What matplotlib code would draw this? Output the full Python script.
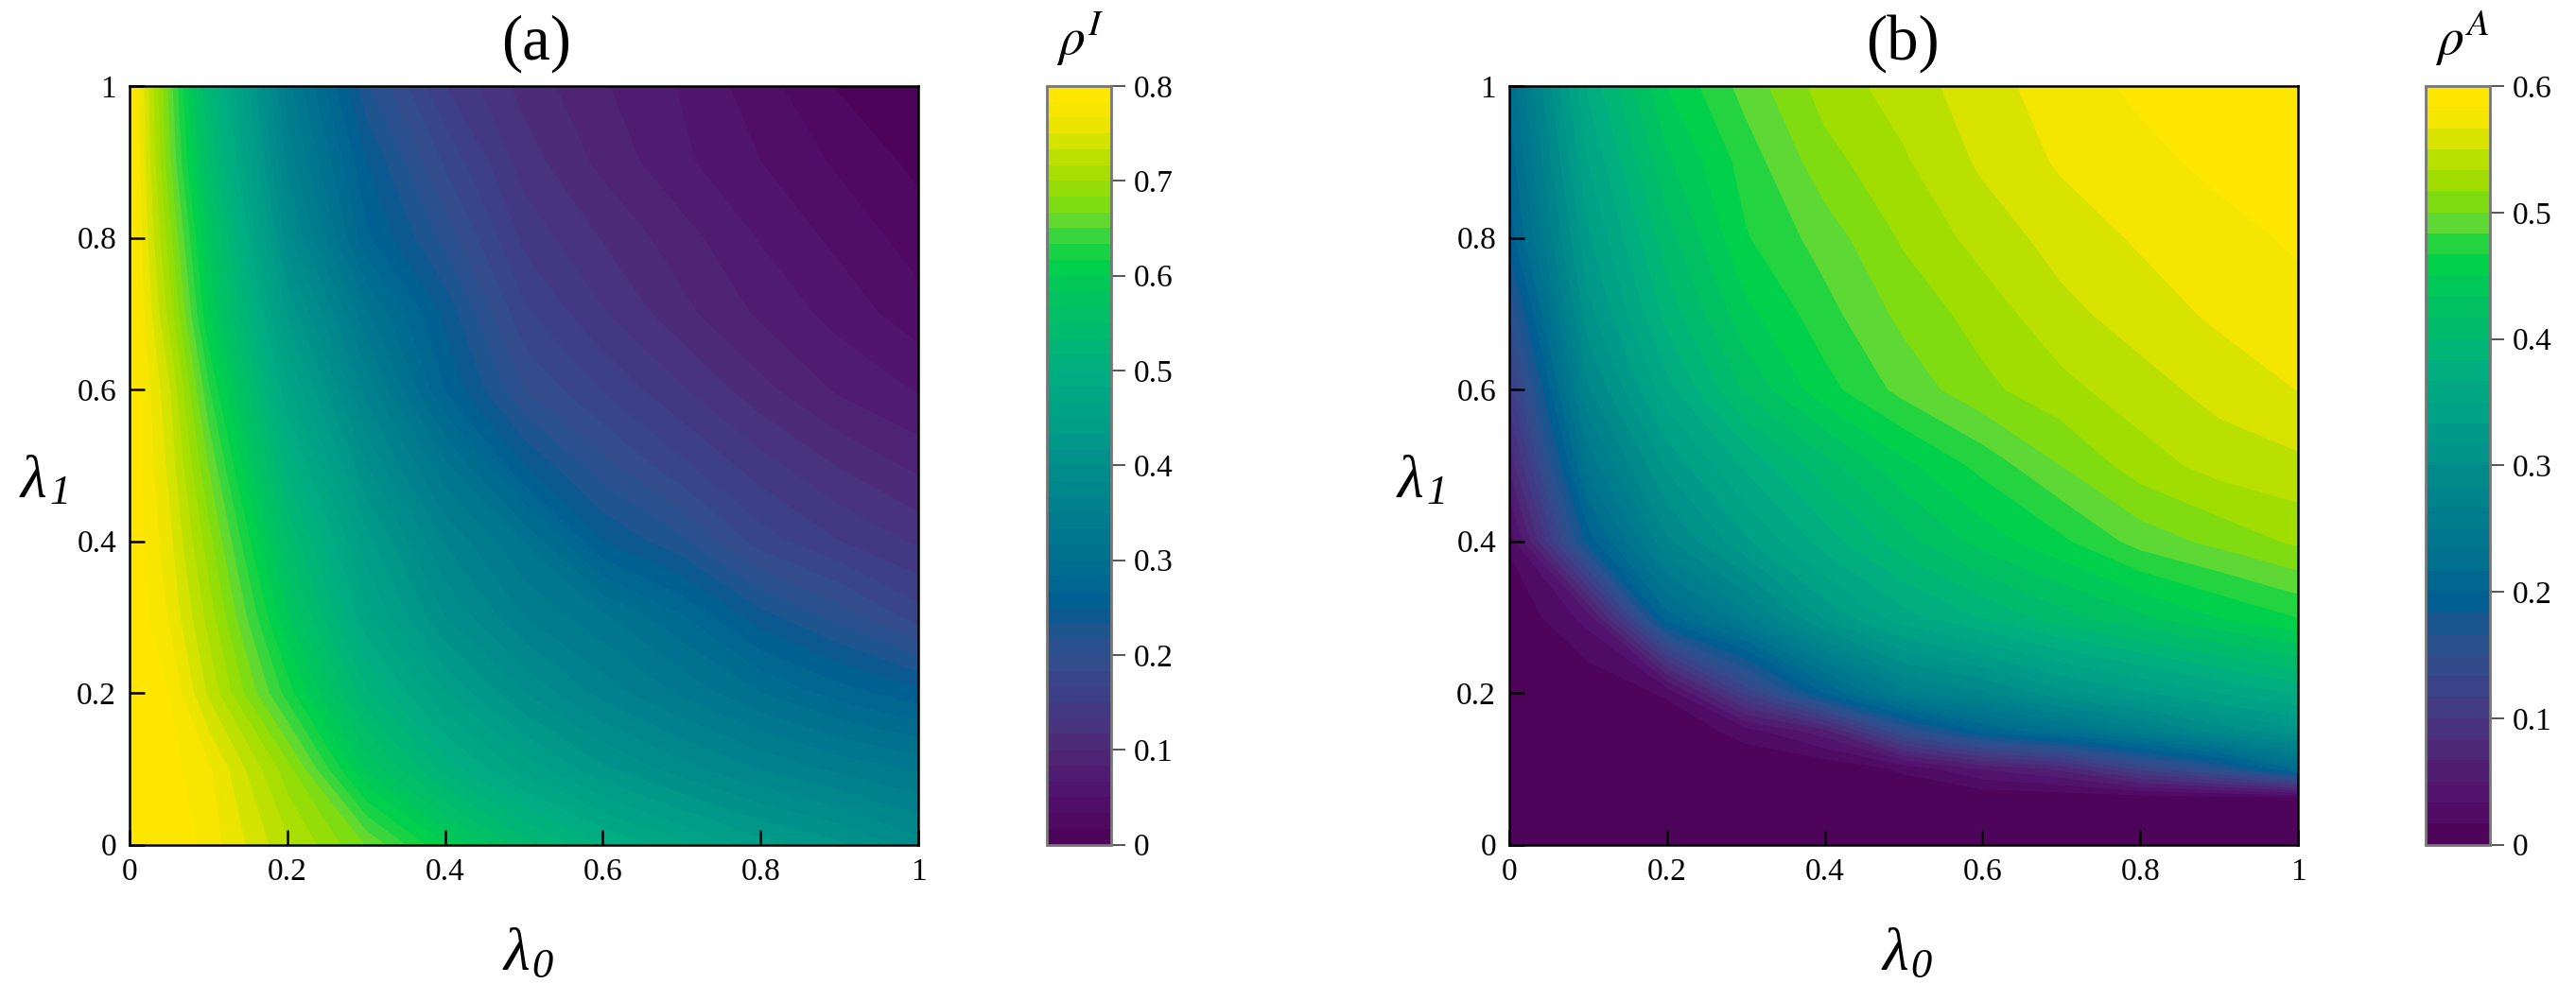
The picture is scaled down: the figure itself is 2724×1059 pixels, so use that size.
import numpy as np
import matplotlib
matplotlib.use("Agg")
import matplotlib.pyplot as plt
from matplotlib.colors import LinearSegmentedColormap

plt.rcParams['font.family'] = ['Liberation Serif', 'DejaVu Serif']
plt.rcParams['mathtext.fontset'] = 'stix'

# colours (position along the bar, colour)
cmap_pos = [0, 0.0625, 0.125, 0.1875, 0.25, 0.29, 0.31, 0.375, 0.44, 0.5, 0.5625, 0.625, 0.72, 0.764, 0.792, 0.819,
            0.847, 0.875, 0.903, 0.931, 0.958, 0.986, 1]
cmap_col = ['#4b0055', '#52116e', '#4e2878', '#413d86', '#2f4f8d', '#1b5690', '#005c92', '#00708f', '#007f8d',
            '#008f8b', '#00a086', '#00ae80', '#00c45e', '#00d14a', '#22d440', '#5cd835', '#80dc10', '#9fde00',
            '#b8e000', '#d8e300', '#f4e600', '#ffe600', '#ffe600']

# panel a, rows go up in lambda_1
lam0_a = [0, 0.05, 0.1, 0.2, 0.3, 0.4, 0.5, 0.6, 0.7, 0.8, 0.9, 1]
lam1_a = [0, 0.1, 0.2, 0.3, 0.4, 0.5, 0.6, 0.7, 0.8, 0.9, 1]
rho_i = [
    [.80, .80, .776, .72, .665, .60, .54, .50, .47, .44, .42, .39],
    [.80, .79, .77, .69, .58, .51, .46, .42, .39, .365, .345, .33],
    [.80, .783, .73, .625, .52, .45, .40, .36, .33, .30, .275, .255],
    [.80, .765, .71, .585, .47, .40, .35, .32, .285, .24, .21, .175],
    [.80, .755, .69, .55, .44, .365, .315, .25, .22, .175, .15, .13],
    [.80, .745, .665, .51, .40, .32, .25, .205, .17, .14, .115, .095],
    [.80, .735, .635, .47, .36, .265, .20, .165, .135, .105, .08, .065],
    [.80, .71, .60, .43, .32, .245, .17, .135, .105, .08, .06, .04],
    [.80, .69, .58, .39, .27, .21, .145, .115, .09, .065, .045, .025],
    [.80, .67, .55, .36, .25, .18, .125, .095, .07, .05, .03, .012],
    [.80, .66, .53, .34, .22, .15, .11, .085, .065, .04, .015, .01],
]

# panel b
lam0_b = [0, 0.1, 0.2, 0.3, 0.4, 0.5, 0.6, 0.7, 0.8, 0.9, 1]
lam1_b = [0, 0.06, 0.1, 0.15, 0.2, 0.3, 0.4, 0.5, 0.6, 0.7, 0.8, 0.9, 1]
rho_a = [
    [0, 0, 0, 0, 0, 0, 0, 0, 0, 0, 0],
    [0, 0, 0, 0, 0, 0, 0, 0, 0, 0, 0],
    [0, 0, 0, 0, 0, .02, .05, .07, .12, .16, .22],
    [0, 0, 0, .025, .06, .15, .20, .23, .26, .29, .31],
    [0, 0, .02, .12, .20, .26, .28, .31, .33, .35, .37],
    [0, .04, .21, .26, .32, .36, .385, .41, .43, .45, .467],
    [.02, .19, .28, .33, .375, .41, .44, .463, .49, .505, .52],
    [.07, .24, .32, .37, .41, .445, .472, .50, .525, .54, .546],
    [.11, .28, .36, .42, .46, .489, .512, .528, .543, .556, .567],
    [.15, .31, .39, .445, .477, .505, .524, .545, .558, .57, .577],
    [.19, .33, .41, .465, .491, .519, .54, .557, .569, .577, .586],
    [.205, .35, .43, .474, .51, .531, .553, .569, .578, .588, .596],
    [.22, .37, .45, .49, .524, .541, .56, .575, .587, .595, .60],
]

ticks_xy = [0, 0.2, 0.4, 0.6, 0.8, 1]
labels_xy = ['0', '0.2', '0.4', '0.6', '0.8', '1']
ticks_a = [0, 0.1, 0.2, 0.3, 0.4, 0.5, 0.6, 0.7, 0.8]
labels_a = ['0', '0.1', '0.2', '0.3', '0.4', '0.5', '0.6', '0.7', '0.8']
ticks_b = [0, 0.1, 0.2, 0.3, 0.4, 0.5, 0.6]
labels_b = ['0', '0.1', '0.2', '0.3', '0.4', '0.5', '0.6']

cmap = LinearSegmentedColormap.from_list('rho', list(zip(cmap_pos, cmap_col)), N=512)

W, H = 2724, 1059
fig = plt.figure(figsize=(W / 100, H / 100), dpi=100, facecolor='white')


def box(x0, x1, y0, y1):
    return [x0 / W, 1 - y1 / H, (x1 - x0) / W, (y1 - y0) / H]


def put(x, y, s, **kw):
    # x, y in image pixels, y is the baseline
    fig.text(x / W, 1 - y / H, s, va='baseline', **kw)


def panel(pos, cpos, x, y, z, vmax, nlev, title, title_x, ctitle, cticks, clabels, ylab_x, xlab_x):
    ax = fig.add_axes(box(*pos))
    levels = np.linspace(0, vmax, nlev + 1)
    cs = ax.contourf(x, y, np.array(z), levels=levels, cmap=cmap, vmin=0, vmax=vmax, antialiased=True)
    cs.set_edgecolor('face')
    ax.set_xlim(0, 1)
    ax.set_ylim(0, 1)
    ax.set_xticks(ticks_xy, labels_xy)
    ax.set_yticks(ticks_xy, labels_xy)
    ax.tick_params(direction='in', length=11.5, width=1.8, labelsize=24, pad=10)
    for s in ax.spines.values():
        s.set_linewidth(1.8)

    put(title_x, 63, title, fontsize=48, ha='center')
    put(xlab_x, 1026, 'λ', fontsize=46, style='italic')
    put(xlab_x + 29, 1034, '0', fontsize=32, style='italic')
    put(ylab_x, 526, 'λ', fontsize=46, style='italic')
    put(ylab_x + 30, 533, '1', fontsize=32, style='italic')

    cax = fig.add_axes(box(*cpos))
    cb = fig.colorbar(cs, cax=cax, orientation='vertical')
    cb.set_ticks(cticks, labels=clabels)
    cb.ax.tick_params(length=11, width=1.4, color='#555555', labelsize=24, pad=6, which='major')
    cb.ax.minorticks_off()
    cb.outline.set_linewidth(2.0)
    cb.outline.set_edgecolor('#777777')
    put(cpos[0] + 10, 58, ctitle, fontsize=40)


panel((137, 971, 91, 893.5), (1107, 1175, 91, 893.5), lam0_a, lam1_a, rho_i, 0.8, 48,
      '(a)', 567, r'$\rho^{I}$', ticks_a, labels_a, 22, 533)
panel((1596, 2430, 91, 893.5), (2565, 2633, 91, 893.5), lam0_b, lam1_b, rho_a, 0.6, 36,
      '(b)', 2012, r'$\rho^{A}$', ticks_b, labels_b, 1478, 1991)

fig.savefig('out.png', dpi=100)
